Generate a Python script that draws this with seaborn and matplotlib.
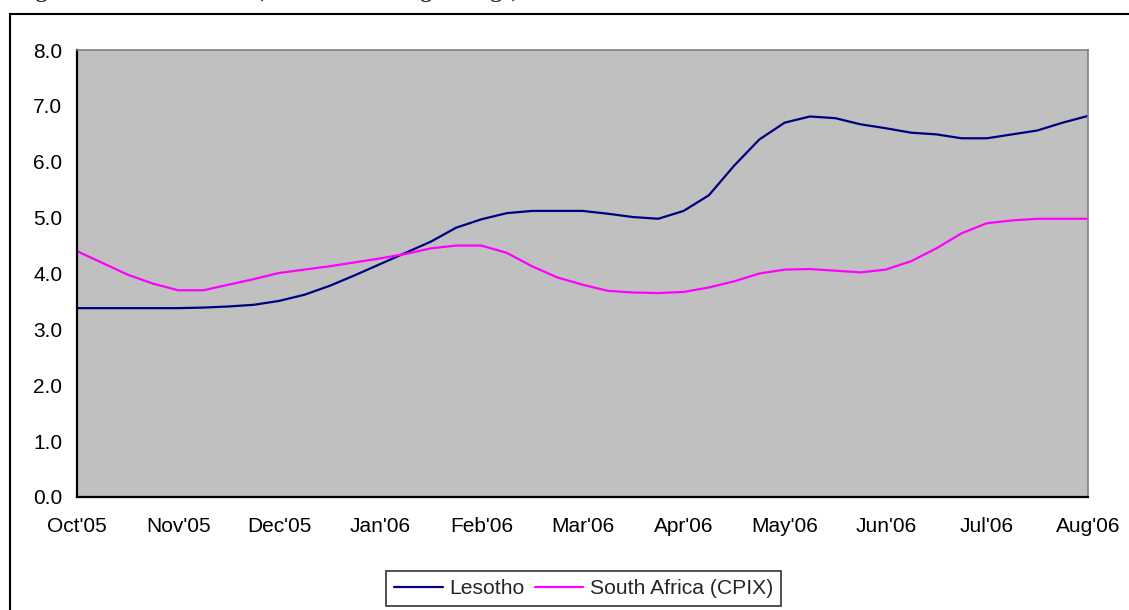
import numpy as np
import pandas as pd
import matplotlib
matplotlib.use('Agg')
import matplotlib.pyplot as plt
import seaborn as sns
from matplotlib.patches import Rectangle

# data: quarter-month readings, Oct'05 .. Aug'06
months = ["Oct'05", "Nov'05", "Dec'05", "Jan'06", "Feb'06", "Mar'06",
          "Apr'06", "May'06", "Jun'06", "Jul'06", "Aug'06"]
lesotho = [3.38, 3.38, 3.38, 3.38, 3.38, 3.39, 3.41, 3.44, 3.51, 3.62,
           3.78, 3.97, 4.17, 4.37, 4.57, 4.82, 4.97, 5.08, 5.12, 5.12,
           5.12, 5.07, 5.01, 4.98, 5.12, 5.40, 5.93, 6.40, 6.70, 6.81,
           6.78, 6.67, 6.60, 6.52, 6.49, 6.42, 6.42, 6.49, 6.56, 6.70, 6.82]
south_africa = [4.40, 4.19, 3.98, 3.82, 3.70, 3.70, 3.80, 3.90, 4.01, 4.07,
                4.13, 4.20, 4.27, 4.35, 4.45, 4.50, 4.50, 4.37, 4.13, 3.93,
                3.80, 3.69, 3.66, 3.65, 3.67, 3.75, 3.86, 4.00, 4.07, 4.08,
                4.05, 4.02, 4.07, 4.22, 4.45, 4.72, 4.90, 4.95, 4.98, 4.98, 4.98]
series_names = ['Lesotho', 'South Africa (CPIX)']

t = np.arange(len(lesotho)) / 4.0
df = pd.DataFrame({'t': np.concatenate([t, t]),
                   'value': lesotho + south_africa,
                   'series': [series_names[0]] * len(t) + [series_names[1]] * len(t)})

sns.set_style('white')
plt.rcParams['font.family'] = ['Liberation Sans', 'DejaVu Sans']

fig = plt.figure(figsize=(11.29, 6.10), dpi=100)
ax = fig.add_axes([77 / 1129, 1 - 497 / 610, (1088 - 77) / 1129, (497 - 50) / 610])

# outer frame, cut off at the right and bottom edges
fig.patches.append(Rectangle((10 / 1129, -0.05), 1.2, 1 - 14 / 610 + 0.05,
                             transform=fig.transFigure, fill=False,
                             edgecolor='black', linewidth=1.5))
# title, cut off at the top edge (only descenders show)
fig.text(16 / 1129, 1 + 2.5 / 610, 'Figure 2: Inflation Rates (12-month moving average)',
         family=['Liberation Serif', 'DejaVu Serif'], weight='bold', fontsize=16,
         va='baseline')

sns.lineplot(data=df, x='t', y='value', hue='series',
             palette={series_names[0]: '#000080', series_names[1]: '#FF00FF'},
             linewidth=1.6, ax=ax, legend=False)

ax.set_facecolor('#C0C0C0')
ax.set_xlim(0, 10)
ax.set_ylim(0, 8)
ax.set_xticks(range(len(months)))
ax.set_xticklabels(months)
ax.set_yticks(np.arange(0, 8.1, 1.0))
ax.set_yticklabels([f'{v:.1f}' for v in np.arange(0, 8.1, 1.0)])
ax.set_xlabel('')
ax.set_ylabel('')
ax.tick_params(axis='both', direction='inout', length=11, width=1.3,
               labelsize=15, colors='black')
ax.tick_params(axis='x', pad=9)
ax.tick_params(axis='y', pad=5)
for s in ['left', 'bottom']:
    ax.spines[s].set_color('black')
    ax.spines[s].set_linewidth(1.6)
for s in ['top', 'right']:
    ax.spines[s].set_color('#808080')
    ax.spines[s].set_linewidth(1.2)

handles = [plt.Line2D([], [], color='#000080', linewidth=1.6),
           plt.Line2D([], [], color='#FF00FF', linewidth=1.6)]
leg = fig.legend(handles, series_names, loc='upper center',
                 bbox_to_anchor=(583.5 / 1129, 1 - 571 / 610), ncol=2,
                 fontsize=15.2, frameon=True, fancybox=False,
                 handlelength=2.3, handletextpad=0.3, columnspacing=0.5,
                 borderpad=0.38, borderaxespad=0)
leg.get_frame().set_edgecolor('black')
leg.get_frame().set_linewidth(1.2)

plt.savefig('out.png', dpi=100)
